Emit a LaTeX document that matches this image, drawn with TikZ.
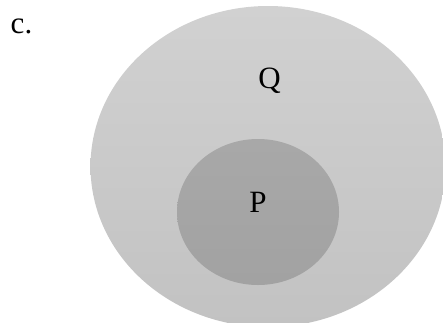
\documentclass[tikz,border=0pt]{standalone}
\usepackage{fontspec}
\setmainfont{Liberation Serif}
\begin{document}
\begin{tikzpicture}[x=1pt,y=-1pt,
  lbl/.style={anchor=base,inner sep=0pt,font=\fontsize{31}{36}\selectfont}]
\useasboundingbox (0,0) rectangle (443,322);
\begin{scope}
\clip (0,0) rectangle (443,322);
\shade[top color={rgb,255:red,209;green,209;blue,209},bottom color={rgb,255:red,194;green,194;blue,194}]
  (268,166.5) ellipse [x radius=177.5, y radius=160.5];
\end{scope}
\shade[top color={rgb,255:red,168;green,168;blue,168},bottom color={rgb,255:red,162;green,162;blue,162}]
  (258,212) ellipse [x radius=81, y radius=73];
\node[lbl] (c) at (21.5,33.5) {c.};
\node[lbl] (q) at (269.5,88) {Q};
\node[lbl] (p) at (258,212) {P};
\end{tikzpicture}
\end{document}
